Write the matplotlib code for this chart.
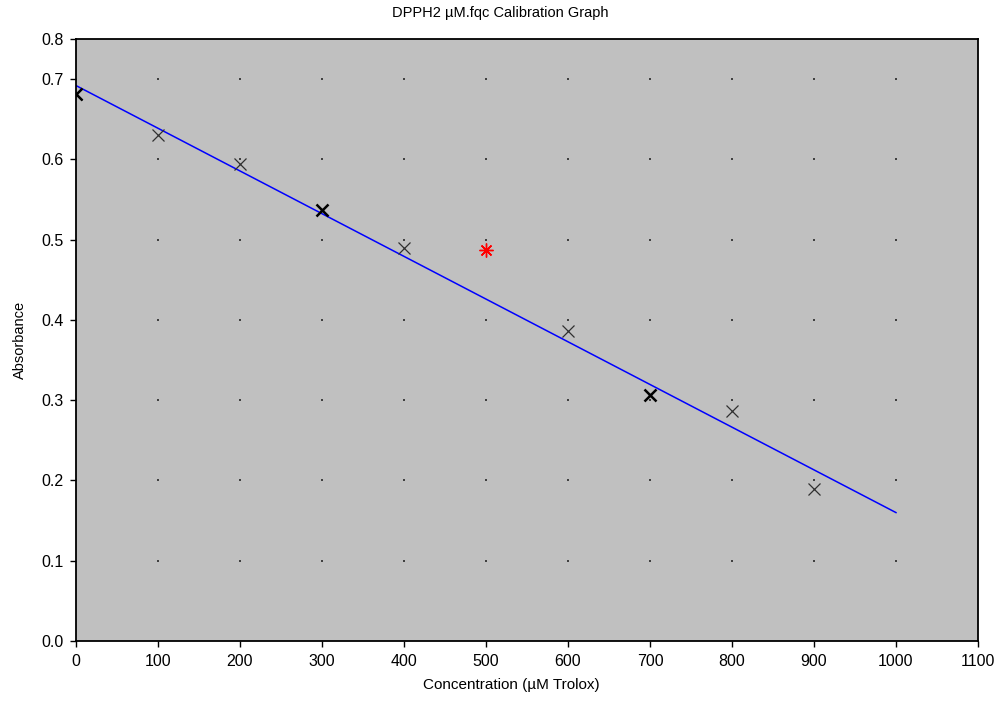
import numpy as np
import matplotlib
matplotlib.use('Agg')
import matplotlib.pyplot as plt

plt.rcParams['font.family'] = ['Liberation Sans', 'DejaVu Sans']

# calibration standards (µM Trolox) and absorbance readings
conc = [0, 100, 200, 400, 600, 800, 900]
absorb = [0.681, 0.631, 0.594, 0.490, 0.386, 0.287, 0.189]
# points drawn heavier (overlapping replicates)
conc_rep = [0, 300, 700]
absorb_rep = [0.681, 0.537, 0.307]
# excluded point
conc_out = [500]
absorb_out = [0.4875]
# fitted line
fit_x = [0, 1000]
fit_y = [0.692, 0.160]

x_ticks = [0, 100, 200, 300, 400, 500, 600, 700, 800, 900, 1000, 1100]
y_ticks = [0.0, 0.1, 0.2, 0.3, 0.4, 0.5, 0.6, 0.7, 0.75]
y_labels = ['0.0', '0.1', '0.2', '0.3', '0.4', '0.5', '0.6', '0.7', '0.8']

fig = plt.figure(figsize=(10.01, 7.09), dpi=100)
ax = fig.add_axes([0.0759, 0.0959, 0.9011, 0.8491])
ax.set_facecolor('#c0c0c0')

# dotted grid (dots at the intersections)
gx, gy = np.meshgrid(x_ticks[1:-1], y_ticks[1:-1])
ax.scatter(gx.ravel(), gy.ravel(), s=1.5, color='#404040', marker='s', lw=0, zorder=1)

ax.plot(fit_x, fit_y, color='#0000ff', lw=1.1, zorder=2)
ax.plot(conc, absorb, ls='none', marker='x', ms=9, mew=0.9, color='#303030', zorder=3)
ax.plot(conc_rep, absorb_rep, ls='none', marker='x', ms=9, mew=1.8, color='black', zorder=3)
ax.plot(conc_out, absorb_out, ls='none', marker=(8, 2, 0), ms=10, mew=1.0, color='#ff0000', zorder=3)

ax.set_xlim(0, 1100)
ax.set_ylim(0, 0.75)
ax.set_xticks(x_ticks)
ax.set_yticks(y_ticks)
ax.set_yticklabels(y_labels)
ax.tick_params(direction='out', length=4, width=1, labelsize=11.5, colors='black', pad=5)
for s in ax.spines.values():
    s.set_linewidth(1.3)
    s.set_color('black')

fig.text(0.5, 0.992, 'DPPH2 µM.fqc Calibration Graph', fontsize=10.5, ha='center', va='top')
ax.set_xlabel('Concentration (µM Trolox)', fontsize=11, labelpad=8)
ax.xaxis.set_label_coords(0.483, -0.062)
ax.set_ylabel('Absorbance', fontsize=10.5, labelpad=10)

fig.savefig('out.png', dpi=100)
